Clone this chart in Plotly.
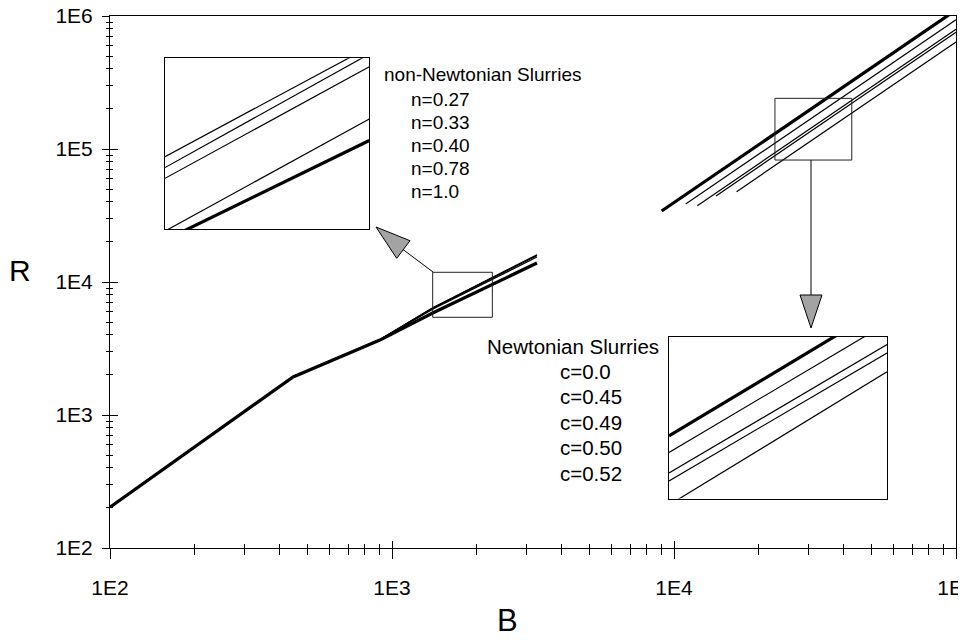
import plotly.graph_objects as go

# ---------------- data ----------------
# Lower-left family: non-Newtonian slurries (B, R)
nn_labels = ["n=0.27", "n=0.33", "n=0.40", "n=0.78", "n=1.0"]
nn_B = [100, 446, 906, 1394, 3266]
R_n027 = [203, 1932, 3700, 6400, 16000]
R_n033 = [203, 1932, 3690, 6380, 15900]
R_n040 = [203, 1932, 3680, 6350, 15800]
R_n078 = [203, 1932, 3670, 6250, 15400]
R_n100 = [203, 1932, 3660, 5850, 13900]

# Upper-right family: Newtonian slurries (B, R)
nw_labels = ["c=0.0", "c=0.45", "c=0.49", "c=0.50", "c=0.52"]
B_c000 = [9040, 95000]
R_c000 = [34200, 1030000]
B_c045 = [11000, 100000]
R_c045 = [38600, 938000]
B_c049 = [12100, 100000]
R_c049 = [37500, 794000]
B_c050 = [14090, 100000]
R_c050 = [44400, 754000]
B_c052 = [16670, 100000]
R_c052 = [47800, 637000]

# zoom-region boxes (data coordinates)
box1_B = [1394, 2269, 2269, 1394, 1394]
box1_R = [5428, 5428, 11830, 11830, 5428]
box2_B = [22800, 42700, 42700, 22800, 22800]
box2_R = [82600, 82600, 240400, 240400, 82600]

# magnified inset views (relative units 0..1)
inset_u = [0, 1]
ins_nn_027 = [0.425, 1.066]
ins_nn_033 = [0.361, 1.025]
ins_nn_040 = [0.298, 0.951]
ins_nn_078 = [-0.0105, 0.645]
ins_nn_100 = [-0.0635, 0.519]

ins_nw_000 = [0.388, 1.198]
ins_nw_045 = [0.285, 1.085]
ins_nw_049 = [0.158, 0.953]
ins_nw_050 = [0.109, 0.901]
ins_nw_052 = [-0.040, 0.784]

x_tickvals = [100, 1000, 10000, 100000]
x_ticktext = ["1E2", "1E3", "1E4", "1E5"]
y_tickvals = [100, 1000, 10000, 100000, 1000000]
y_ticktext = ["1E2", "1E3", "1E4", "1E5", "1E6"]
x_minor = [m * 10 ** k for k in range(2, 5) for m in range(2, 10)]
y_minor = [m * 10 ** k for k in range(2, 6) for m in range(2, 10)]

# ---------------- layout helpers ----------------
# page (window) coordinates of the plot area; the page body adds an 8 px offset
OFF = 8
W_FIG, H_FIG = 966 - OFF, 642 - OFF
L, T, PW, PH = 110, 16, 846, 532   # in page pixels
FONT = "Liberation Sans, Arial, sans-serif"


def px(x):
    return (x - L) / PW


def py(y):
    return (T + PH - y) / PH


fig = go.Figure()

thin = dict(color="black", width=1.2)
thick = dict(color="black", width=3.2)

# main curves
for lab, R in zip(nn_labels, [R_n027, R_n033, R_n040, R_n078, R_n100]):
    fig.add_trace(go.Scatter(x=nn_B, y=R, mode="lines", name=lab,
                             line=thick if lab == "n=1.0" else thin,
                             showlegend=False, hoverinfo="skip"))
for lab, B, R in zip(nw_labels, [B_c000, B_c045, B_c049, B_c050, B_c052],
                     [R_c000, R_c045, R_c049, R_c050, R_c052]):
    fig.add_trace(go.Scatter(x=B, y=R, mode="lines", name=lab,
                             line=thick if lab == "c=0.0" else thin,
                             showlegend=False, hoverinfo="skip"))

# zoom boxes
for bx, by in [(box1_B, box1_R), (box2_B, box2_R)]:
    fig.add_trace(go.Scatter(x=bx, y=by, mode="lines",
                             line=dict(color="#222", width=1),
                             showlegend=False, hoverinfo="skip"))

# hidden trace for tick-overlay axes
fig.add_trace(go.Scatter(x=[nn_B[0]], y=[R_n100[0]], xaxis="x4", yaxis="y4",
                         mode="markers", marker=dict(opacity=0),
                         showlegend=False, hoverinfo="skip"))

# inset 1 (non-Newtonian)
for lab, v in zip(nn_labels, [ins_nn_027, ins_nn_033, ins_nn_040, ins_nn_078, ins_nn_100]):
    fig.add_trace(go.Scatter(x=inset_u, y=v, xaxis="x2", yaxis="y2", mode="lines",
                             line=thick if lab == "n=1.0" else thin,
                             showlegend=False, hoverinfo="skip"))
# inset 2 (Newtonian)
for lab, v in zip(nw_labels, [ins_nw_000, ins_nw_045, ins_nw_049, ins_nw_050, ins_nw_052]):
    fig.add_trace(go.Scatter(x=inset_u, y=v, xaxis="x3", yaxis="y3", mode="lines",
                             line=thick if lab == "c=0.0" else thin,
                             showlegend=False, hoverinfo="skip"))

tickfont = dict(family=FONT, size=21, color="black")

inset_axis = dict(range=[0, 1], showline=True, mirror=True, linecolor="black",
                  linewidth=1, showticklabels=False, ticks="", showgrid=False,
                  zeroline=False, fixedrange=True, automargin=False)

fig.update_layout(
    width=W_FIG, height=H_FIG, autosize=False,
    margin=dict(l=L - OFF, r=W_FIG - (L - OFF) - PW, t=T - OFF,
                b=H_FIG - (T - OFF) - PH, autoexpand=False),
    paper_bgcolor="white", plot_bgcolor="white",
    showlegend=False,
    font=dict(family=FONT, color="black"),
    xaxis=dict(type="log", range=[2, 5], showline=True, mirror=True,
               linecolor="black", linewidth=1, showgrid=False, zeroline=False,
               automargin=False, ticklabeloverflow="allow",
               tickmode="array", tickvals=x_tickvals, ticktext=x_ticktext,
               ticks="outside", ticklen=10, tickwidth=1, tickcolor="black",
               tickfont=tickfont, ticklabelstandoff=11,
               minor=dict(tickmode="array", tickvals=x_minor, ticks="outside",
                          ticklen=6, tickwidth=1, tickcolor="black", showgrid=False)),
    yaxis=dict(type="log", range=[2, 6], showline=True, mirror=True,
               linecolor="black", linewidth=1, showgrid=False, zeroline=False,
               automargin=False, ticklabeloverflow="allow",
               tickmode="array", tickvals=y_tickvals, ticktext=y_ticktext,
               ticks="outside", ticklen=7, tickwidth=1, tickcolor="black",
               tickfont=tickfont, ticklabelstandoff=5,
               minor=dict(tickmode="array", tickvals=y_minor, ticks="outside",
                          ticklen=3, tickwidth=1, tickcolor="black", showgrid=False)),
    xaxis4=dict(type="log", range=[2, 5], overlaying="x", anchor="y4",
                showline=False, showgrid=False, zeroline=False, automargin=False,
                tickmode="array", tickvals=x_tickvals, showticklabels=False,
                ticks="inside", ticklen=7, tickwidth=1, tickcolor="black",
                minor=dict(tickmode="array", tickvals=x_minor, ticks="inside",
                           ticklen=4, tickwidth=1, tickcolor="black")),
    yaxis4=dict(type="log", range=[2, 6], overlaying="y", anchor="x4",
                showline=False, showgrid=False, zeroline=False, automargin=False,
                tickmode="array", tickvals=y_tickvals, showticklabels=False,
                ticks="inside", ticklen=8, tickwidth=1, tickcolor="black",
                minor=dict(tickmode="array", tickvals=y_minor, ticks="inside",
                           ticklen=3, tickwidth=1, tickcolor="black")),
    xaxis2=dict(domain=[px(165), px(369.3)], anchor="y2", **inset_axis),
    yaxis2=dict(domain=[py(229.3), py(58.3)], anchor="x2", **inset_axis),
    xaxis3=dict(domain=[px(669), px(887)], anchor="y3", **inset_axis),
    yaxis3=dict(domain=[py(498.5), py(337)], anchor="x3", **inset_axis),
)

# arrows (connector lines + shaded triangular heads)
shapes = [
    dict(type="line", xref="paper", yref="paper",
         x0=px(433), y0=py(272), x1=px(403), y1=py(249.5),
         line=dict(color="black", width=1)),
    dict(type="path", xref="paper", yref="paper",
         path=f"M {px(376)} {py(227)} L {px(410)} {py(240.7)} L {px(396.7)} {py(258.3)} Z",
         fillcolor="#a3a3a3", line=dict(color="black", width=1)),
    dict(type="line", xref="paper", yref="paper",
         x0=px(811), y0=py(160), x1=px(811), y1=py(295),
         line=dict(color="black", width=1)),
    dict(type="path", xref="paper", yref="paper",
         path=f"M {px(800)} {py(295)} L {px(822)} {py(295)} L {px(811)} {py(328)} Z",
         fillcolor="#a3a3a3", line=dict(color="black", width=1)),
]
fig.update_layout(shapes=shapes)

ann = []
ann.append(dict(text="R", x=px(20), y=py(270), xref="paper", yref="paper",
                showarrow=False, xanchor="center", yanchor="middle",
                font=dict(family=FONT, size=30, color="black")))
ann.append(dict(text="B", x=px(507), y=py(620), xref="paper", yref="paper",
                showarrow=False, xanchor="center", yanchor="middle",
                font=dict(family=FONT, size=31, color="black")))

nnfont = dict(family=FONT, size=19, color="black")
nwfont = dict(family=FONT, size=20.5, color="black")
ann.append(dict(text="non-Newtonian Slurries", x=px(382), y=py(75), xref="paper",
                yref="paper", showarrow=False, xanchor="left", yanchor="middle",
                font=nnfont))
for i, lab in enumerate(nn_labels):
    ann.append(dict(text=lab, x=px(409), y=py(99.5 + 23 * i), xref="paper",
                    yref="paper", showarrow=False, xanchor="left",
                    yanchor="middle", font=nnfont))
ann.append(dict(text="Newtonian Slurries", x=px(485), y=py(346), xref="paper",
                yref="paper", showarrow=False, xanchor="left", yanchor="middle",
                font=nwfont))
for i, lab in enumerate(nw_labels):
    ann.append(dict(text=lab, x=px(558), y=py(371 + 25.5 * i), xref="paper",
                    yref="paper", showarrow=False, xanchor="left",
                    yanchor="middle", font=nwfont))
fig.update_layout(annotations=ann)

fig.write_html("out.html")
